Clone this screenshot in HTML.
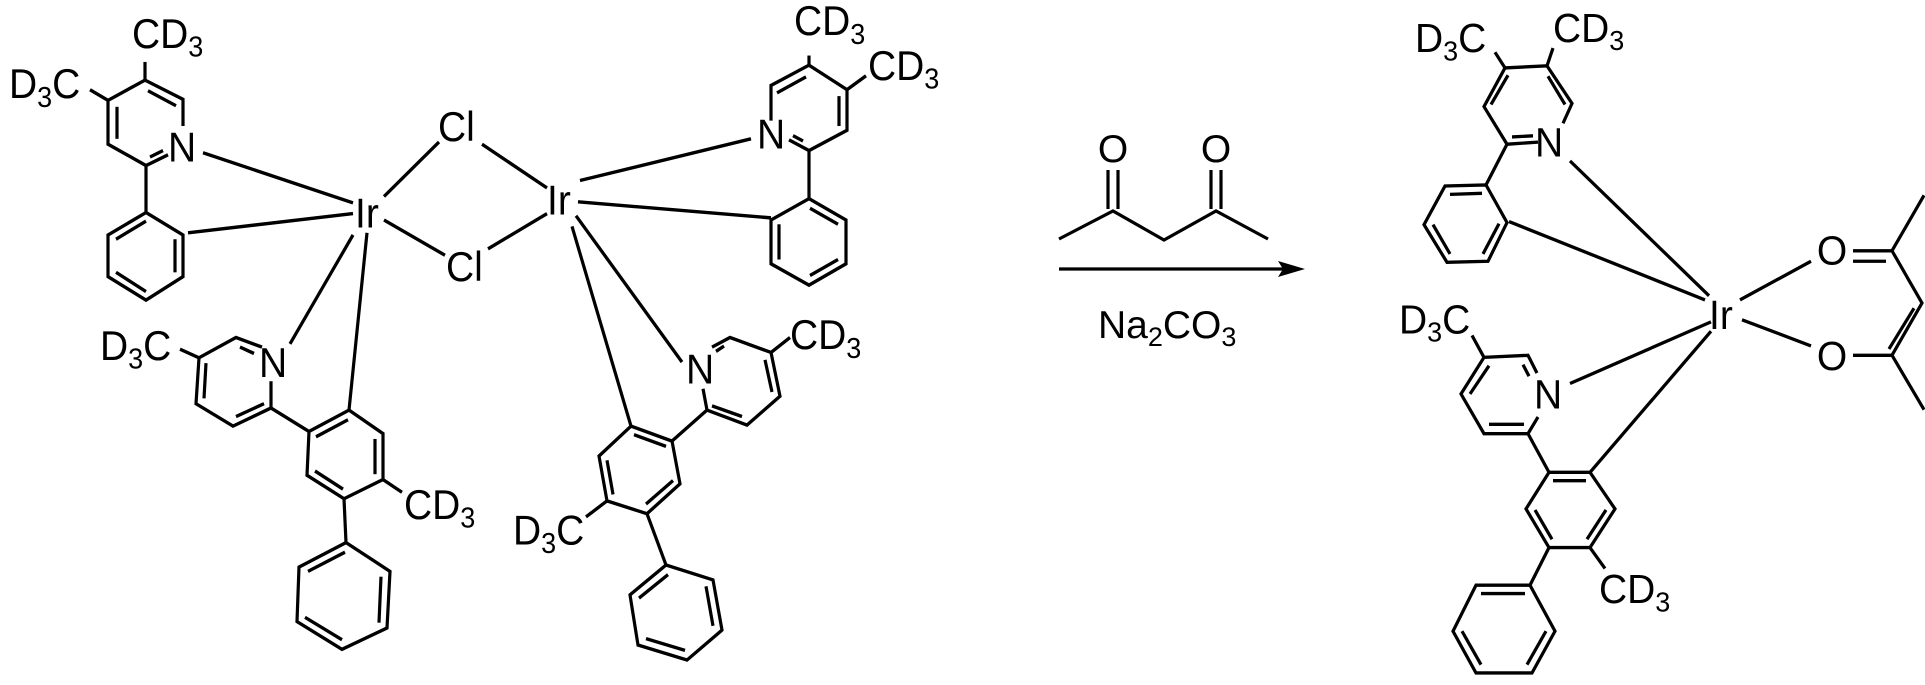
<!DOCTYPE html>
<html><head><meta charset="utf-8"><style>
html,body{margin:0;padding:0;background:#fff;}
svg{display:block;}
text{font-family:"Liberation Sans",Arial,sans-serif;fill:#000;}
</style></head><body>
<svg width="1925" height="685" viewBox="0 0 1925 685" xmlns="http://www.w3.org/2000/svg">
<g stroke="#000" stroke-width="3.2" fill="none" stroke-linecap="butt" stroke-linejoin="miter">
<g transform="scale(1,1.068)">
<polyline points="183,118 183,93 145,75 108,94 108,135 146,155 168,145"/>
<line x1="117" y1="100" x2="117" y2="130"/>
<line x1="148" y1="85" x2="176" y2="99"/>
<line x1="150" y1="147" x2="163" y2="141"/>
<line x1="90" y1="84" x2="108" y2="94"/>
<line x1="145" y1="75" x2="145" y2="58"/>
<line x1="146" y1="155" x2="146" y2="199"/>
<polygon points="146,199 183,220 183,259 146,281 108,259 108,220"/>
<line x1="116" y1="224" x2="146" y2="207"/>
<line x1="175" y1="224" x2="175" y2="255"/>
<line x1="146" y1="273" x2="116" y2="255"/>
<line x1="203" y1="143" x2="353" y2="190"/>
<line x1="188" y1="218" x2="353" y2="200"/>
<line x1="384" y1="184" x2="439" y2="133"/>
<line x1="384" y1="206" x2="445" y2="239"/>
<line x1="482" y1="135" x2="547" y2="176"/>
<line x1="488" y1="233" x2="547" y2="200"/>
<line x1="353" y1="220" x2="290" y2="322"/>
<line x1="367" y1="218" x2="349" y2="384"/>
<polyline points="262,325 236,316 199,335 196,378 233,399 271,382 271,357"/>
<line x1="240" y1="325" x2="254" y2="331"/>
<line x1="206" y1="340" x2="204" y2="373"/>
<line x1="236" y1="390" x2="264" y2="378"/>
<line x1="180" y1="327" x2="199" y2="335"/>
<polygon points="349,384 309,404 307,445 344,467 383,449 383,406"/>
<line x1="348" y1="393" x2="316" y2="409"/>
<line x1="315" y1="441" x2="343" y2="458"/>
<line x1="375" y1="444" x2="375" y2="411"/>
<line x1="309" y1="404" x2="271" y2="382"/>
<line x1="383" y1="449" x2="402" y2="461"/>
<line x1="344" y1="467" x2="346" y2="508"/>
<polygon points="346,508 390,535 387,588 342,608 297,582 299,531"/>
<line x1="345" y1="517" x2="308" y2="535"/>
<line x1="381" y1="540" x2="379" y2="583"/>
<line x1="342" y1="599" x2="305" y2="578"/>
<line x1="580" y1="169" x2="751" y2="130"/>
<line x1="578" y1="189" x2="771" y2="204"/>
<line x1="576" y1="202" x2="682" y2="339"/>
<line x1="572" y1="212" x2="631" y2="399"/>
<polyline points="771,113 771,80 809,61 847,84 847,122 809,141 789,131"/>
<line x1="777" y1="87" x2="806" y2="72"/>
<line x1="839" y1="90" x2="839" y2="118"/>
<line x1="803" y1="132" x2="793" y2="127"/>
<line x1="809" y1="61" x2="809" y2="52"/>
<line x1="847" y1="84" x2="866" y2="71"/>
<line x1="809" y1="141" x2="809" y2="186"/>
<polygon points="809,186 846,206 846,247 809,267 771,247 771,206"/>
<line x1="810" y1="195" x2="838" y2="210"/>
<line x1="838" y1="243" x2="810" y2="258"/>
<line x1="779" y1="243" x2="779" y2="210"/>
<polyline points="712,325 730,316 771,330 780,371 747,398 707,384 703,364"/>
<line x1="724" y1="324" x2="716" y2="329"/>
<line x1="765" y1="337" x2="772" y2="367"/>
<line x1="742" y1="390" x2="712" y2="380"/>
<line x1="771" y1="330" x2="790" y2="316"/>
<polygon points="631,399 672,413 680,453 647,481 607,469 599,427"/>
<line x1="634" y1="407" x2="666" y2="418"/>
<line x1="673" y1="450" x2="646" y2="472"/>
<line x1="613" y1="463" x2="607" y2="431"/>
<line x1="672" y1="413" x2="707" y2="384"/>
<line x1="607" y1="469" x2="586" y2="484"/>
<line x1="647" y1="481" x2="666" y2="529"/>
<polygon points="666,529 713,543 722,590 687,618 638,604 630,557"/>
<line x1="668" y1="538" x2="639" y2="560"/>
<line x1="706" y1="549" x2="713" y2="586"/>
<line x1="685" y1="609" x2="646" y2="598"/>
</g>
<polyline points="1059,239 1113,211 1164,240 1216,211 1268,239"/>
<line x1="1108" y1="170" x2="1108" y2="209"/>
<line x1="1118" y1="170" x2="1118" y2="209"/>
<line x1="1211" y1="170" x2="1211" y2="209"/>
<line x1="1221" y1="170" x2="1221" y2="209"/>
<line x1="1059" y1="269" x2="1288" y2="269"/>
<g transform="scale(1,1.045)">
<polyline points="1563,118 1572,99 1547,63 1505,65 1484,102 1507,138 1538,136"/>
<line x1="1548" y1="73" x2="1565" y2="100"/>
<line x1="1491" y1="100" x2="1508" y2="72"/>
<line x1="1512" y1="131" x2="1533" y2="130"/>
<line x1="1495" y1="50" x2="1505" y2="65"/>
<line x1="1553" y1="46" x2="1547" y2="63"/>
<line x1="1507" y1="138" x2="1486" y2="177"/>
<polygon points="1486,177 1507,213 1488,250 1447,251 1424,215 1445,178"/>
<line x1="1482" y1="185" x2="1450" y2="186"/>
<line x1="1499" y1="214" x2="1483" y2="243"/>
<line x1="1450" y1="243" x2="1433" y2="215"/>
<line x1="1570" y1="154" x2="1709" y2="283"/>
<line x1="1509" y1="212" x2="1705" y2="287"/>
<line x1="1740" y1="287" x2="1811" y2="250"/>
<line x1="1742" y1="306" x2="1811" y2="331"/>
<line x1="1711" y1="308" x2="1570" y2="367"/>
<line x1="1711" y1="317" x2="1590" y2="452"/>
<line x1="1853" y1="240" x2="1892" y2="240"/>
<line x1="1853" y1="250" x2="1886" y2="250"/>
<polyline points="1924,187 1892,240 1922,290 1892,340 1924,392"/>
<line x1="1914" y1="295" x2="1889" y2="334"/>
<line x1="1853" y1="340" x2="1892" y2="340"/>
<polyline points="1537,357 1528,340 1484,342 1461,377 1484,415 1528,415 1538,399"/>
<line x1="1523" y1="349" x2="1529" y2="360"/>
<line x1="1524" y1="406" x2="1489" y2="406"/>
<line x1="1470" y1="377" x2="1489" y2="350"/>
<line x1="1472" y1="321" x2="1484" y2="342"/>
<polygon points="1549,452 1590,452 1615,487 1590,524 1549,524 1526,487"/>
<line x1="1553" y1="460" x2="1586" y2="460"/>
<line x1="1606" y1="488" x2="1587" y2="516"/>
<line x1="1552" y1="516" x2="1535" y2="488"/>
<line x1="1528" y1="415" x2="1549" y2="452"/>
<line x1="1590" y1="524" x2="1605" y2="544"/>
<line x1="1549" y1="524" x2="1530" y2="560"/>
<polygon points="1530,560 1555,604 1532,644 1476,644 1453,604 1476,560"/>
<line x1="1525" y1="568" x2="1481" y2="568"/>
<line x1="1546" y1="604" x2="1527" y2="636"/>
<line x1="1481" y1="636" x2="1462" y2="604"/>
</g>
</g>
<polygon points="1305,269 1278,261 1283,269 1278,277" fill="#000"/>
<g font-size="39">
<g transform="scale(1,1.068)">
<text x="9" y="92">D<tspan font-size="27" dy="8">3</tspan><tspan dy="-8">C</tspan></text>
<text x="132" y="45">CD<tspan font-size="27" dy="8">3</tspan></text>
<text x="168" y="151">N</text>
<text x="355" y="213">Ir</text>
<text x="438" y="132">Cl</text>
<text x="446" y="263">Cl</text>
<text x="547" y="201">Ir</text>
<text x="100" y="337">D<tspan font-size="27" dy="8">3</tspan><tspan dy="-8">C</tspan></text>
<text x="259" y="353">N</text>
<text x="404" y="486">CD<tspan font-size="27" dy="8">3</tspan></text>
<text x="794" y="33">CD<tspan font-size="27" dy="8">3</tspan></text>
<text x="868" y="75">CD<tspan font-size="27" dy="8">3</tspan></text>
<text x="757" y="139">N</text>
<text x="790" y="327">CD<tspan font-size="27" dy="8">3</tspan></text>
<text x="686" y="359">N</text>
<text x="513" y="510">D<tspan font-size="27" dy="8">3</tspan><tspan dy="-8">C</tspan></text>
</g>
<text x="1113" y="162" text-anchor="middle">O</text>
<text x="1216" y="162" text-anchor="middle">O</text>
<text x="1098" y="338">Na<tspan font-size="27" dy="8">2</tspan><tspan dy="-8">CO</tspan><tspan font-size="27" dy="8">3</tspan></text>
<g transform="scale(1,1.045)">
<text x="1415" y="50">D<tspan font-size="27" dy="8">3</tspan><tspan dy="-8">C</tspan></text>
<text x="1553" y="40">CD<tspan font-size="27" dy="8">3</tspan></text>
<text x="1535" y="150">N</text>
<text x="1709" y="315">Ir</text>
<text x="1832" y="253" text-anchor="middle">O</text>
<text x="1832" y="354" text-anchor="middle">O</text>
<text x="1399" y="319">D<tspan font-size="27" dy="8">3</tspan><tspan dy="-8">C</tspan></text>
<text x="1534" y="391">N</text>
<text x="1599" y="577">CD<tspan font-size="27" dy="8">3</tspan></text>
</g>
</g>
</svg>
</body></html>
